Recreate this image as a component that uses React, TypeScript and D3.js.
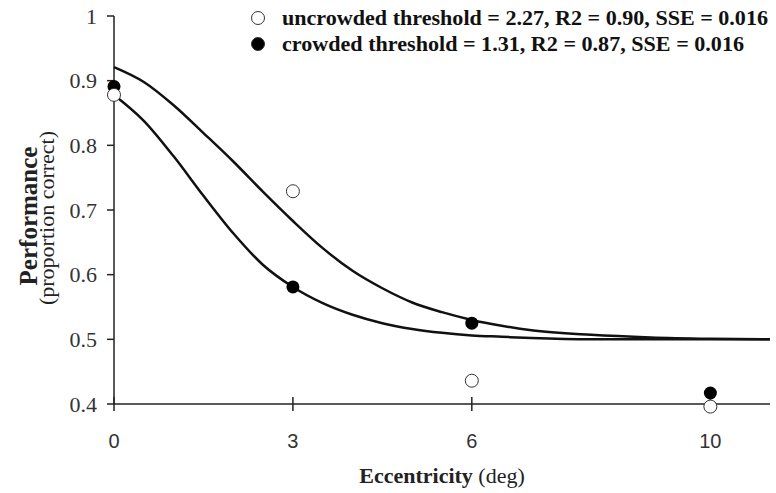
import React, { useEffect, useRef } from 'react';
import * as d3 from 'd3';

// observed points
const eccentricities = [0, 3, 6, 10];
const uncrowded = [0.878, 0.729, 0.436, 0.396];
const crowded = [0.891, 0.581, 0.525, 0.417];

// fitted curves
const fitX = [0, 0.5, 1, 1.5, 2, 2.5, 3, 3.5, 4, 4.5, 5, 5.5, 6, 6.5, 7, 8, 9, 10, 11];
const fitUncrowded = [0.921, 0.898, 0.862, 0.819, 0.775, 0.728, 0.683, 0.641, 0.606, 0.579, 0.557, 0.542, 0.53, 0.521, 0.514, 0.507, 0.503, 0.501, 0.5];
const fitCrowded = [0.878, 0.838, 0.783, 0.722, 0.664, 0.615, 0.581, 0.556, 0.538, 0.525, 0.516, 0.51, 0.506, 0.504, 0.502, 0.5, 0.5, 0.5, 0.5];

const xTicks = [0, 3, 6, 10];
const yTicks = [0.4, 0.5, 0.6, 0.7, 0.8, 0.9, 1];

const legendLabels = [
  'uncrowded threshold = 2.27, R2 = 0.90, SSE = 0.016',
  'crowded threshold = 1.31, R2 = 0.87, SSE = 0.016',
];
const legendWidths = [486, 462];

export default function App() {
  const svgRef = useRef<SVGSVGElement>(null);

  useEffect(() => {
    const width = 776;
    const height = 493;
    const serif = '"Liberation Serif", "Times New Roman", serif';
    const sans = '"Liberation Sans", Arial, sans-serif';

    const svg = d3.select(svgRef.current).attr('width', width).attr('height', height);
    svg.selectAll('*').remove();

    const x = d3.scaleLinear().domain([0, 11]).range([114, 770]);
    const y = d3.scaleLinear().domain([0.4, 1]).range([404, 16]);

    // y axis
    const yAxis = svg.append('g');
    yAxis.append('line')
      .attr('x1', x(0)).attr('x2', x(0))
      .attr('y1', y(1)).attr('y2', y(0.4))
      .attr('stroke', '#222').attr('stroke-width', 1.5);
    yAxis.selectAll('.yt').data(yTicks).enter().append('line')
      .attr('x1', x(0) - 7).attr('x2', x(0))
      .attr('y1', d => y(d)).attr('y2', d => y(d))
      .attr('stroke', '#222').attr('stroke-width', 1.5);
    yAxis.selectAll('.yl').data(yTicks).enter().append('text')
      .attr('x', 97).attr('y', d => y(d)).attr('dy', '0.35em')
      .attr('text-anchor', 'end')
      .attr('font-family', serif).attr('font-size', 22).attr('fill', '#333')
      .text(d => String(d));

    // x axis
    const xAxis = svg.append('g');
    xAxis.append('line')
      .attr('x1', x(0)).attr('x2', x(11))
      .attr('y1', y(0.4)).attr('y2', y(0.4))
      .attr('stroke', '#222').attr('stroke-width', 1.5);
    xAxis.selectAll('.xt').data(xTicks).enter().append('line')
      .attr('x1', d => x(d)).attr('x2', d => x(d))
      .attr('y1', y(0.4) - 7).attr('y2', y(0.4) + 7)
      .attr('stroke', '#222').attr('stroke-width', 1.5);
    xAxis.selectAll('.xl').data(xTicks).enter().append('text')
      .attr('x', d => x(d)).attr('y', 448)
      .attr('text-anchor', 'middle')
      .attr('font-family', sans).attr('font-size', 20).attr('fill', '#333')
      .text(d => String(d));

    // axis titles
    const xt = svg.append('text')
      .attr('x', 442).attr('y', 483).attr('text-anchor', 'middle')
      .attr('font-family', serif).attr('font-size', 22).attr('fill', '#222');
    xt.append('tspan').attr('font-weight', 'bold').text('Eccentricity');
    xt.append('tspan').text(' (deg)');

    svg.append('text')
      .attr('transform', 'translate(37,216) rotate(-90)')
      .attr('text-anchor', 'middle')
      .attr('font-family', serif).attr('font-size', 25).attr('font-weight', 'bold').attr('fill', '#222')
      .text('Performance');
    svg.append('text')
      .attr('transform', 'translate(54,218) rotate(-90)')
      .attr('text-anchor', 'middle')
      .attr('font-family', serif).attr('font-size', 22).attr('fill', '#222')
      .text('(proportion correct)');

    // fitted curves
    const line = d3.line<number>()
      .x((d, i) => x(fitX[i]))
      .y(d => y(d))
      .curve(d3.curveMonotoneX);
    [fitUncrowded, fitCrowded].forEach(series => {
      svg.append('path')
        .attr('d', line(series))
        .attr('fill', 'none')
        .attr('stroke', '#111')
        .attr('stroke-width', 2.5);
    });

    // points
    svg.selectAll('.pc').data(crowded).enter().append('circle')
      .attr('cx', (d, i) => x(eccentricities[i])).attr('cy', d => y(d))
      .attr('r', 6.5).attr('fill', '#000');
    svg.selectAll('.pu').data(uncrowded).enter().append('circle')
      .attr('cx', (d, i) => x(eccentricities[i])).attr('cy', d => y(d))
      .attr('r', 6.5).attr('fill', '#fff').attr('stroke', '#333').attr('stroke-width', 1);

    // legend
    const legend = svg.append('g');
    legendLabels.forEach((label, i) => {
      legend.append('circle')
        .attr('cx', 258).attr('cy', 18 + i * 26).attr('r', 6.5)
        .attr('fill', i === 0 ? '#fff' : '#000')
        .attr('stroke', '#333').attr('stroke-width', 1);
      legend.append('text')
        .attr('x', 282).attr('y', 25 + i * 26)
        .attr('textLength', legendWidths[i])
        .attr('lengthAdjust', 'spacingAndGlyphs')
        .attr('font-family', serif).attr('font-size', 22).attr('font-weight', 'bold').attr('fill', '#111')
        .text(label);
    });
  }, []);

  return (
    <svg ref={svgRef} style={{ position: 'absolute', left: 0, top: 0, background: '#fff' }}></svg>
  );
}
